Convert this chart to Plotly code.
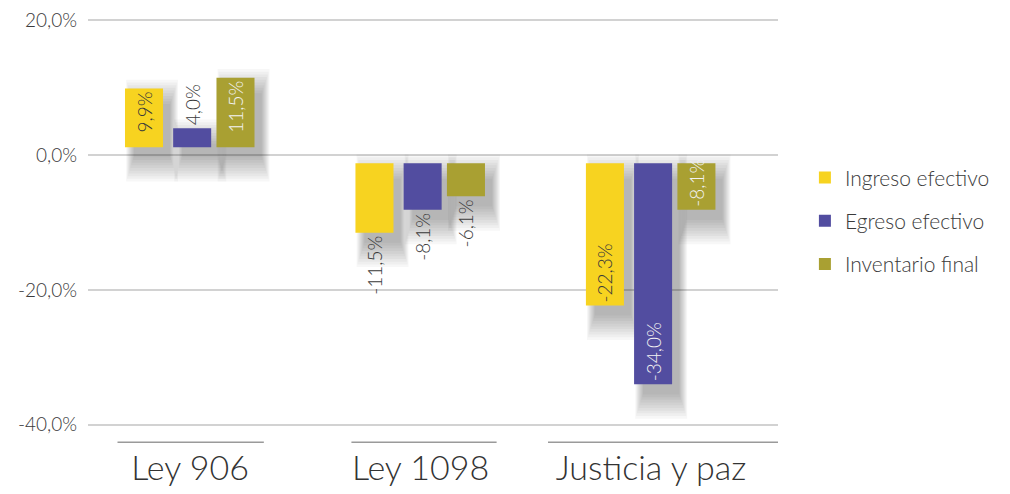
import plotly.graph_objects as go

# ── Data ──────────────────────────────────────────────────────────────────────
categories = ["Ley 906", "Ley 1098", "Justicia y paz"]
series_names = ["Ingreso efectivo", "Egreso efectivo", "Inventario final"]
ingreso = [9.9, -11.5, -22.3]
egreso = [4.0, -8.1, -34.0]
inventario = [11.5, -6.1, -8.1]
y_ticks = [-40, -20, 0, 20]
y_tick_text = ["-40,0%", "-20,0%", "0,0%", "20,0%"]

# ── Style ─────────────────────────────────────────────────────────────────────
COLORS = ["#F7D320", "#524DA0", "#A9A032"]
INSIDE_TEXT = ["#3a3a3a", "#f2f2f2", "#f2f2f2"]
FONT = "Lato"
BAR_W = 0.165
CENTERS = [-0.2, 0.009, 0.197]
LIFT = 1.2          # bars float a little off the zero line
SHADOW_DX = 0.035
SHADOW_DY = 1.9
SHADOW_SPREAD = [3.2, 2.8, 2.4, 2.0, 1.6, 1.2, 0.8, 0.4, 0.0, -0.4]

series = [ingreso, egreso, inventario]
# label placement per category (rows) and series (columns)
text_pos = [
    ["inside", "outside", "inside"],
    ["outside", "outside", "outside"],
    ["inside", "inside", "inside"],
]

x_idx = list(range(len(categories)))


def fmt(v):
    return f"{v:.1f}%".replace(".", ",")


fig = go.Figure()

# soft drop shadows (stacked translucent layers fake a blur)
for vals, cx in zip(series, CENTERS):
    lo = [min(v, LIFT if v > 0 else -LIFT) for v in vals]
    hi = [max(v, LIFT if v > 0 else -LIFT) for v in vals]
    for s in SHADOW_SPREAD:
        sx = s * 0.0095
        fig.add_trace(go.Bar(
            x=x_idx,
            y=[h - l + 2 * s for l, h in zip(lo, hi)],
            base=[l - SHADOW_DY - s for l in lo],
            offset=cx - BAR_W / 2 + SHADOW_DX - sx,
            width=BAR_W + 2 * sx,
            marker=dict(color="rgba(0,0,0,0.032)", line=dict(width=0)),
            showlegend=False,
            hoverinfo="skip",
        ))

# main bars
for i, (name, vals) in enumerate(zip(series_names, series)):
    base = [LIFT if v > 0 else -LIFT for v in vals]
    fig.add_trace(go.Bar(
        name=name,
        x=x_idx,
        y=[v - b for v, b in zip(vals, base)],
        base=base,
        offset=CENTERS[i] - BAR_W / 2,
        width=BAR_W,
        marker=dict(color=COLORS[i], line=dict(width=0)),
        text=[fmt(v) for v in vals],
        textposition=[text_pos[j][i] for j in range(len(vals))],
        textangle=-90,
        insidetextanchor="end",
        textfont=dict(size=19, family=FONT, weight=300),
        insidetextfont=dict(size=19, family=FONT, weight=300, color=INSIDE_TEXT[i]),
        outsidetextfont=dict(size=19, family=FONT, weight=300, color="#3a3a3a"),
        cliponaxis=False,
        legendgroup=name,
    ))

# short rules above each category label
rules = [(-0.315, 0.32), (-0.3, 0.33), (-0.447, 0.551)]
for j, (a, b) in enumerate(rules):
    fig.add_shape(type="line", xref="x", yref="paper",
                  x0=j + a, x1=j + b, y0=0.006, y1=0.006,
                  line=dict(color="#9a9a9a", width=1.5))

fig.update_layout(
    barmode="overlay",
    width=1010,
    height=494,
    paper_bgcolor="white",
    plot_bgcolor="white",
    font=dict(family=FONT, color="#3a3a3a", weight=300),
    uniformtext=dict(minsize=19, mode="show"),
    margin=dict(l=88, r=232, t=7, b=47),
    showlegend=True,
    legend=dict(
        x=1.039, y=0.512, xanchor="left", yanchor="middle",
        font=dict(size=21, color="#3a3a3a", family=FONT, weight=300),
        tracegroupgap=13,
        bgcolor="rgba(0,0,0,0)",
    ),
    xaxis=dict(
        tickmode="array",
        tickvals=x_idx,
        ticktext=categories,
        range=[-0.443, 2.551],
        showgrid=False,
        zeroline=False,
        showline=False,
        ticks="",
        tickfont=dict(size=34, color="#333333", family=FONT, weight=300),
    ),
    yaxis=dict(
        range=[-43, 22],
        tickmode="array",
        tickvals=y_ticks,
        ticktext=y_tick_text,
        showgrid=True,
        gridcolor="#d2d2d2",
        gridwidth=1.5,
        zeroline=False,
        showline=False,
        ticks="",
        ticklabelstandoff=10,
        tickfont=dict(size=19, color="#3a3a3a", family=FONT, weight=300),
    ),
)

# drop the browser's default body margin so the figure sits at the page origin
fig.write_html("out.html", config={"displayModeBar": False},
               post_script="document.body.style.margin='0';")
